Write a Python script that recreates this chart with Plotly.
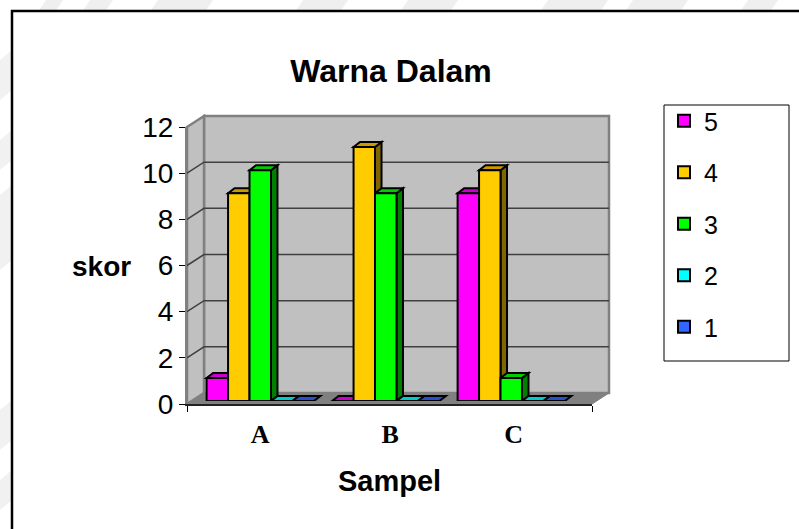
import plotly.graph_objects as go
import numpy as np

W, H = 799, 529

# data
categories = ["A", "B", "C"]
series_names = ["5", "4", "3", "2", "1"]
values_5 = [1, 0, 9]
values_4 = [9, 11, 10]
values_3 = [10, 9, 1]
values_2 = [0, 0, 0]
values_1 = [0, 0, 0]
y_ticks = [0, 2, 4, 6, 8, 10, 12]

series_values = [values_5, values_4, values_3, values_2, values_1]
front_colors = ["#FF00FF", "#FFCC00", "#00FF00", "#00FFFF", "#3366FF"]
top_colors = ["#CC00CC", "#CC9900", "#00CC00", "#00CCCC", "#2850CC"]
side_colors = ["#800080", "#806600", "#008000", "#008080", "#1A3380"]


def px(x):
    return x / W


def py(y):
    return 1 - y / H


# pixel geometry of the frame and the plane the bars stand on
FRONT_L, FRONT_R, FRONT_T, FRONT_B = 187, 592, 127, 404
DEPTH_X, DEPTH_Y = 17, 11
BAR_L, BAR_R, BAR_T, BAR_B = 197.5, 574, 124, 401
BAR_DX, BAR_DY = 6.5, 5

unit_x = BAR_R - BAR_L  # three categories
dx = BAR_DX / (unit_x / 3)
dy = BAR_DY / ((BAR_B - BAR_T) / 12)
bar_gap = 0.145
bar_w = (1 - bar_gap) / len(series_names)

fig = go.Figure()
shapes = []


def poly(points, fill, line="#808080", width=2.5):
    path = "M" + "L".join(f"{px(a)},{py(b)}" for a, b in points) + "Z"
    shapes.append(dict(type="path", path=path, xref="paper", yref="paper", fillcolor=fill,
                       line=dict(color=line, width=width), layer="below"))


# faint watermark strokes showing outside the frame
for x0, x1 in [(38, 55), (82, 105), (150, 205), (295, 340), (400, 450), (540, 600), (625, 680), (740, 770)]:
    poly([(x0, 12), (x1, 12), (x1 + 8, 0), (x0 + 8, 0)], "#EFEFEF", line="rgba(0,0,0,0)", width=0)
for y0, y1 in [(60, 100), (140, 170), (195, 270), (410, 450), (480, 510)]:
    poly([(0, y0), (12, y0 - 10), (12, y1 - 10), (0, y1)], "#F1F1F1", line="rgba(0,0,0,0)", width=0)

# outer frame, walls and floor
shapes.append(dict(type="rect", xref="paper", yref="paper", x0=px(12), x1=px(810), y0=py(11), y1=py(540),
                   fillcolor="white", line=dict(color="black", width=2.5), layer="below"))
poly([(FRONT_L + DEPTH_X, FRONT_T - DEPTH_Y), (FRONT_R + DEPTH_X, FRONT_T - DEPTH_Y),
      (FRONT_R + DEPTH_X, FRONT_B - DEPTH_Y), (FRONT_L + DEPTH_X, FRONT_B - DEPTH_Y)], "#C0C0C0")
poly([(FRONT_L, FRONT_T), (FRONT_L + DEPTH_X, FRONT_T - DEPTH_Y),
      (FRONT_L + DEPTH_X, FRONT_B - DEPTH_Y), (FRONT_L, FRONT_B)], "#C0C0C0")
poly([(FRONT_L, FRONT_B), (FRONT_R, FRONT_B), (FRONT_R + DEPTH_X, FRONT_B - DEPTH_Y),
      (FRONT_L + DEPTH_X, FRONT_B - DEPTH_Y)], "#808080", width=1)

# gridlines on side and back wall
for t in y_ticks[1:-1]:
    y = FRONT_B - t * (FRONT_B - FRONT_T) / 12
    poly([(FRONT_L, y), (FRONT_L + DEPTH_X, y - DEPTH_Y), (FRONT_R + DEPTH_X, y - DEPTH_Y),
          (FRONT_L + DEPTH_X, y - DEPTH_Y)], "rgba(0,0,0,0)", line="#404040", width=1.5)

# bars: side and top faces go below, the front faces are real bar traces
group_w = 1 - bar_gap
for c in range(len(categories)):
    for s in range(len(series_names)):
        v = series_values[s][c]
        left = c - group_w / 2 + s * bar_w
        right = left + bar_w
        if v > 0:
            side = f"M{right},0L{right + dx},{dy}L{right + dx},{v + dy}L{right},{v}Z"
            shapes.append(dict(type="path", path=side, xref="x", yref="y", fillcolor=side_colors[s],
                               line=dict(color="black", width=2), layer="below"))
        top = f"M{left},{v}L{left + dx},{v + dy}L{right + dx},{v + dy}L{right},{v}Z"
        shapes.append(dict(type="path", path=top, xref="x", yref="y", fillcolor=top_colors[s],
                           line=dict(color="black", width=2), layer="below"))

for name, vals, col in zip(series_names, series_values, front_colors):
    fig.add_trace(go.Bar(
        x=np.arange(len(categories)), y=vals, name=name, legendgroup=name,
        marker=dict(color=col, line=dict(color="black", width=2)),
        hoverinfo="skip", xaxis="x", yaxis="y",
    ))

# empty trace so that the frame axes get drawn
fig.add_trace(go.Scatter(x=[0, 1], y=[0, 12], mode="none", showlegend=False, hoverinfo="skip",
                         xaxis="x2", yaxis="y2"))

# legend box
shapes.append(dict(type="rect", xref="paper", yref="paper", x0=px(664), x1=px(789), y0=py(105), y1=py(361),
                   fillcolor="white", line=dict(color="black", width=1), layer="below"))

fig.update_layout(
    width=W, height=H,
    margin=dict(l=0, r=0, t=0, b=0, autoexpand=False),
    paper_bgcolor="white", plot_bgcolor="rgba(0,0,0,0)",
    font=dict(family="Liberation Sans", color="black"),
    barmode="group", bargap=bar_gap, bargroupgap=0,
    shapes=shapes,
    title=dict(text="<b>Warna Dalam</b>", x=px(391), xanchor="center", y=py(71), yanchor="middle",
               font=dict(size=32, family="Liberation Sans")),
    xaxis=dict(domain=[px(BAR_L), px(BAR_R)], range=[-0.5, 2.5], anchor="y",
               tickvals=[0, 1.035, 2.02], ticktext=categories, ticks="", showgrid=False, zeroline=False,
               showline=False, ticklabelstandoff=15,
               tickfont=dict(family="Liberation Serif", size=26, color="black", weight="bold")),
    yaxis=dict(domain=[py(BAR_B), py(BAR_T)], range=[0, 12], anchor="x", visible=False),
    xaxis2=dict(domain=[px(FRONT_L), px(FRONT_R)], range=[0, 1], anchor="y2", tickvals=[0, 1],
                ticktext=["", ""], ticks="outside", ticklen=6, tickwidth=1, tickcolor="black",
                showline=True, linecolor="#222222", linewidth=2, showgrid=False, zeroline=False),
    yaxis2=dict(domain=[py(FRONT_B), py(FRONT_T)], range=[0, 12], anchor="x2", tickvals=y_ticks,
                ticks="outside", ticklen=6, tickwidth=1, tickcolor="black", showline=True,
                linecolor="#808080", linewidth=2, showgrid=False, zeroline=False,
                tickfont=dict(size=28, color="black")),
    legend=dict(x=px(664), y=py(98), xanchor="left", yanchor="top", bgcolor="rgba(0,0,0,0)",
                traceorder="grouped", tracegroupgap=16, font=dict(size=25, color="black")),
    annotations=[
        dict(text="<b>skor</b>", xref="paper", yref="paper", x=px(102), y=py(266), showarrow=False,
             xanchor="center", yanchor="middle", font=dict(size=28)),
        dict(text="<b>Sampel</b>", xref="paper", yref="paper", x=px(389), y=py(481), showarrow=False,
             xanchor="center", yanchor="middle", font=dict(size=29)),
    ],
)

# the page's default body margin would shift the chart by 8px
fig.write_html("out.html", post_script="document.body.style.margin='0';",
               config=dict(displayModeBar=False))
